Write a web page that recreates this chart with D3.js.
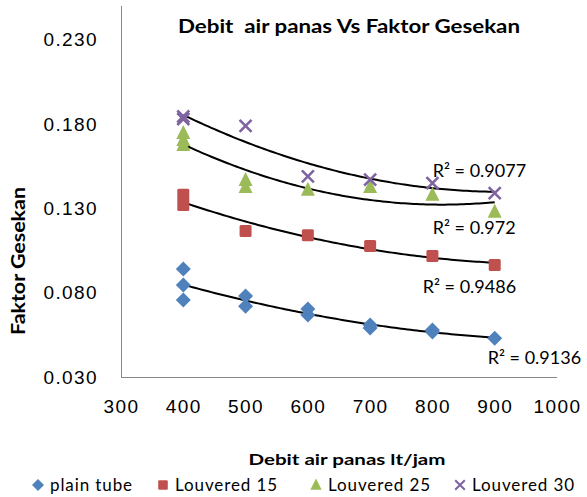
<!DOCTYPE html>
<html>
<head>
<meta charset="utf-8">
<script src="https://cdn.jsdelivr.net/npm/d3@7"></script>
<style>
  body { margin: 0; background: #fff; }
  svg { font-family: Lato, "Open Sans", sans-serif; }
  .tick text { font-size: 19px; fill: #000; letter-spacing: 1.4px; }
  .axis path { stroke: #868686; }
</style>
</head>
<body>
<svg width="587" height="497"></svg>
<script>
const width = 587
const height = 497

// flow rate (lt/jam) and friction factor, one entry per measured point
const seriesNames = ['plain tube', 'Louvered 15', 'Louvered 25', 'Louvered 30']
const plainX = [400, 400, 400, 500, 500, 600, 600, 700, 700, 800, 800, 900]
const plainY = [0.094, 0.0846, 0.0757, 0.078, 0.072, 0.0703, 0.0668, 0.0608, 0.059, 0.0579, 0.0567, 0.053]
const l15X = [400, 400, 500, 600, 700, 800, 900]
const l15Y = [0.138, 0.132, 0.1166, 0.114, 0.1077, 0.1018, 0.0964]
const l25X = [400, 400, 400, 500, 500, 600, 700, 800, 900]
const l25Y = [0.1747, 0.1706, 0.1676, 0.1468, 0.1427, 0.141, 0.1427, 0.138, 0.128]
const l30X = [400, 400, 500, 600, 700, 800, 900]
const l30Y = [0.1845, 0.183, 0.1789, 0.149, 0.147, 0.145, 0.139]
const r2Labels = ['R² = 0.9136', 'R² = 0.9486', 'R² = 0.972', 'R² = 0.9077']
const colors = ['#4F81BD', '#C0504D', '#9BBB59', '#8064A2']
const xTicks = [300, 400, 500, 600, 700, 800, 900, 1000]
const yTicks = [0.03, 0.08, 0.13, 0.18, 0.23]

const series = [
  {name: seriesNames[0], xs: plainX, ys: plainY, shape: 'diamond'},
  {name: seriesNames[1], xs: l15X, ys: l15Y, shape: 'square'},
  {name: seriesNames[2], xs: l25X, ys: l25Y, shape: 'triangle'},
  {name: seriesNames[3], xs: l30X, ys: l30Y, shape: 'cross'},
]
series.forEach((s, i) => {
  s.color = colors[i]
  s.r2 = r2Labels[i]
  s.points = s.xs.map((x, j) => ({x: x, y: s.ys[j]}))
})

const svg = d3.select('svg')

const x = d3.scaleLinear().domain([300, 1000]).range([121, 557])
const y = d3.scaleLinear().domain([0.03, 0.25]).range([377, 6])

// axes: no tick marks, grey line
svg.append('g')
  .attr('class', 'axis')
  .attr('transform', 'translate(0,377)')
  .call(d3.axisBottom(x).tickValues(xTicks).tickSize(0).tickPadding(23).tickFormat(d3.format('d')))
  .call(g => g.select('.domain').attr('d', 'M121,0.5H557'))

svg.append('g')
  .attr('class', 'axis')
  .attr('transform', 'translate(121,0)')
  .call(d3.axisLeft(y).tickValues(yTicks).tickSize(0).tickPadding(23).tickFormat(d3.format('.3f')))
  .call(g => g.select('.domain').attr('d', 'M0.5,6V377'))

// quadratic least squares, like the excel trendline
function polyFit(pts){
  var n = pts.length, sx = [0,0,0,0,0], sxy = [0,0,0]
  var m = d3.mean(pts, p => p.x)
  pts.forEach(p => {
    var t = (p.x - m) / 100
    for(var k = 0; k < 5; k++) sx[k] += Math.pow(t, k)
    for(var k = 0; k < 3; k++) sxy[k] += Math.pow(t, k) * p.y
  })
  var A = [[sx[0],sx[1],sx[2],sxy[0]],[sx[1],sx[2],sx[3],sxy[1]],[sx[2],sx[3],sx[4],sxy[2]]]
  for(var i = 0; i < 3; i++){
    for(var r = i + 1; r < 3; r++){
      var f = A[r][i] / A[i][i]
      for(var c = i; c < 4; c++) A[r][c] -= f * A[i][c]
    }
  }
  var c = [0,0,0]
  for(var i = 2; i >= 0; i--){
    var s = A[i][3]
    for(var j = i + 1; j < 3; j++) s -= A[i][j] * c[j]
    c[i] = s / A[i][i]
  }
  return xv => { var t = (xv - m) / 100; return c[0] + c[1]*t + c[2]*t*t }
}

const line = d3.line().x(d => x(d[0])).y(d => y(d[1]))
// offsets of each R² label from the trendline end
const labelOffsets = [[-7, 20], [-72, 24], [-62, 26], [-62, -21]]

series.forEach((s, i) => {
  var f = polyFit(s.points)
  var xs = d3.range(400, 901, 5)
  svg.append('path')
    .datum(xs.map(v => [v, f(v)]))
    .attr('d', line)
    .attr('fill', 'none')
    .attr('stroke', '#000')
    .attr('stroke-width', 2)
  s.end = [x(900), y(f(900))]
})

function marker(sel, shape, color){
  if(shape == 'diamond'){
    sel.append('path').attr('d', 'M0,-7.5L7.5,0L0,7.5L-7.5,0Z').attr('fill', color)
  } else if(shape == 'square'){
    sel.append('rect').attr('x', -6).attr('y', -6).attr('width', 12).attr('height', 12).attr('rx', 1.5).attr('fill', color)
  } else if(shape == 'triangle'){
    sel.append('path').attr('d', 'M0,-8L7,6L-7,6Z').attr('fill', color)
  } else {
    sel.append('path').attr('d', 'M-6,-6L6,6M6,-6L-6,6').attr('stroke', color).attr('stroke-width', 2.6).attr('fill', 'none')
  }
}

series.forEach(s => {
  svg.append('g').selectAll('g')
    .data(s.points).enter()
    .append('g')
    .attr('transform', d => `translate(${x(d.x)},${y(d.y)})`)
    .each(function(){ marker(d3.select(this), s.shape, s.color) })
})

series.forEach((s, i) => {
  svg.append('text')
    .attr('x', s.end[0] + labelOffsets[i][0])
    .attr('y', s.end[1] + labelOffsets[i][1])
    .attr('dy', '0.35em')
    .attr('font-size', 18)
    .text(s.r2)
})

svg.append('text')
  .attr('x', 349).attr('y', 26).attr('dy', '0.35em')
  .attr('text-anchor', 'middle')
  .attr('font-size', 19).attr('font-weight', 'bold')
  .attr('textLength', 342).attr('lengthAdjust', 'spacingAndGlyphs')
  .style('white-space', 'pre')
  .text('Debit  air panas Vs Faktor Gesekan')

svg.append('text')
  .attr('transform', 'translate(19,261) rotate(-90)')
  .attr('dy', '0.35em')
  .attr('text-anchor', 'middle')
  .attr('font-size', 18).attr('font-weight', 'bold')
  .attr('textLength', 148).attr('lengthAdjust', 'spacingAndGlyphs')
  .text('Faktor Gesekan')

svg.append('text')
  .attr('x', 347).attr('y', 459).attr('dy', '0.35em')
  .attr('text-anchor', 'middle')
  .attr('font-size', 16).attr('font-weight', 'bold')
  .attr('textLength', 197).attr('lengthAdjust', 'spacingAndGlyphs')
  .text('Debit air panas lt/jam')

// legend
const legendX = [38, 163, 316, 460]
const legend = svg.append('g').selectAll('g')
  .data(series).enter()
  .append('g')
  .attr('transform', (d, i) => `translate(${legendX[i]},485)`)
legend.each(function(d){
  var g = d3.select(this).append('g').attr('transform', 'scale(0.8)')
  marker(g, d.shape, d.color)
})
legend.append('text')
  .attr('x', 12).attr('dy', '0.35em')
  .attr('font-size', 17)
  .attr('letter-spacing', 0.9)
  .text(d => d.name)
</script>
</body>
</html>
